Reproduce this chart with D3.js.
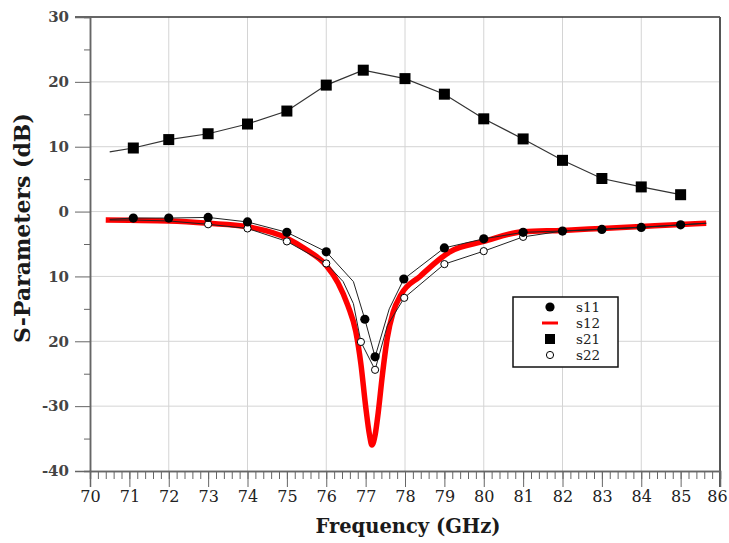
<!DOCTYPE html>
<html>
<head>
<meta charset="utf-8">
<script src="https://cdn.jsdelivr.net/npm/d3@7"></script>
<style>
  body { margin: 0; background: #fff; }
  svg { display: block; }
</style>
</head>
<body>
<div id="chart"></div>
<script>
// tick labels as printed on the original (minus sign missing on -10/-20)
var yTicks = [30, 20, 10, 0, -10, -20, -30, -40];
var yTickLabels = ["30", "20", "10", "0", "10", "20", "-30", "-40"];
var xTicks = d3.range(70, 87);

// S21
var s21Freq = [70.5, 71.1, 72, 73, 74, 75, 76, 76.94, 78, 79, 80, 81, 82, 83, 84, 85];
var s21Val  = [9.2, 9.8, 11.1, 12.0, 13.5, 15.5, 19.5, 21.8, 20.5, 18.1, 14.3, 11.2, 7.9, 5.1, 3.8, 2.6];
var s21Marks = [71.1, 72, 73, 74, 75, 76, 76.94, 78, 79, 80, 81, 82, 83, 84, 85];

// S11
var s11Freq = [70.5, 71.1, 72, 73, 74, 75, 76, 76.69, 76.98, 77.24, 77.6, 77.97, 79, 80, 81, 82, 83, 84, 85, 85.65];
var s11Val  = [-1.2, -1.0, -1.0, -0.9, -1.6, -3.2, -6.2, -10.8, -16.6, -22.4, -15.0, -10.4, -5.6, -4.2, -3.2, -3.0, -2.75, -2.45, -2.05, -1.8];
var s11Marks = [71.1, 72, 73, 74, 75, 76, 76.98, 77.24, 77.97, 79, 80, 81, 82, 83, 84, 85];

// S22
var s22Freq = [70.5, 71.1, 72, 73, 74, 75, 76, 76.43, 76.69, 76.88, 77.24, 77.55, 77.98, 79, 80, 81, 82, 83, 84, 85, 85.65];
var s22Val  = [-1.3, -1.3, -1.45, -1.96, -2.6, -4.6, -8.0, -10.8, -14.2, -20.1, -24.4, -17.6, -13.3, -8.1, -6.1, -3.9, -3.0, -2.7, -2.4, -2.05, -1.8];
var s22Marks = [73, 74, 75, 76, 76.88, 77.24, 77.98, 79, 80, 81];

// S12 (red, no markers)
var s12Freq = [70.4, 71, 72, 73, 74, 75, 75.5, 76, 76.3, 76.55, 76.75, 76.88, 77.0, 77.1, 77.16, 77.24, 77.32, 77.42, 77.55, 77.7, 77.9, 78.38, 79.14, 80, 81, 82, 83, 84, 85, 85.65];
var s12Val  = [-1.3, -1.35, -1.45, -1.8, -2.35, -4.1, -5.9, -8.3, -11.0, -14.5, -18.5, -23.5, -30.0, -34.5, -36.0, -34.5, -31.0, -25.5, -19.5, -15.5, -12.8, -10.0, -6.2, -4.6, -3.1, -2.9, -2.6, -2.3, -2.0, -1.8];

var legendKeys = ["s11", "s12", "s21", "s22"];

var W = 729, H = 543,
    margin = {top: 17, right: 9, bottom: 72, left: 90},
    width = W - margin.left - margin.right,
    height = H - margin.top - margin.bottom;

var svg = d3.select("#chart").append("svg")
    .attr("width", W)
    .attr("height", H);

var x = d3.scaleLinear().domain([70, 86]).range([0, width]);
var y = d3.scaleLinear().domain([-40, 30]).range([height, 0]);

function pts(fr, va) {
  return fr.map(function(f, i) { return {f: f, v: va[i]}; });
}
function marks(fr, va, m) {
  return pts(fr, va).filter(function(d) { return m.indexOf(d.f) >= 0; });
}

var g = svg.append("g").attr("transform", "translate(" + margin.left + "," + margin.top + ")");

// grid
g.append("g")
  .selectAll("line")
  .data([20, 10, 0, -10, -20, -30])
  .enter().append("line")
    .attr("x1", 0).attr("x2", width)
    .attr("y1", function(d) { return y(d); })
    .attr("y2", function(d) { return y(d); })
    .attr("stroke", "#d4d4d4");

g.append("g")
  .selectAll("line")
  .data([72, 74, 76, 78, 80, 82, 84])
  .enter().append("line")
    .attr("y1", 0).attr("y2", height)
    .attr("x1", function(d) { return x(d); })
    .attr("x2", function(d) { return x(d); })
    .attr("stroke", "#d4d4d4");

// frame (top + right)
g.append("line").attr("x1", -15).attr("x2", width).attr("y1", 0).attr("y2", 0)
  .attr("stroke", "#333").attr("stroke-width", 1.5);
g.append("line").attr("x1", width).attr("x2", width).attr("y1", 0).attr("y2", height + 16)
  .attr("stroke", "#555").attr("stroke-width", 2);

// y axis
var yMinor = d3.axisLeft(y).tickValues([25, 15, 5, -5, -15, -25, -35]).tickSize(6).tickFormat("");
g.append("g").attr("class", "axis").call(yMinor);
var yAxis = d3.axisLeft(y).tickValues(yTicks).tickSize(15).tickPadding(6)
  .tickFormat(function(d, i) { return yTickLabels[i]; });
g.append("g").attr("class", "axis y").call(yAxis);

// x axis
var xMinor = d3.axisBottom(x).tickValues(d3.range(0, 81).map(function(i) { return 70 + i * 0.2; })).tickSize(8).tickFormat("");
g.append("g").attr("class", "axis").attr("transform", "translate(0," + height + ")").call(xMinor);
var xAxis = d3.axisBottom(x).tickValues(xTicks).tickSize(16).tickPadding(4).tickFormat(d3.format("d"));
g.append("g").attr("class", "axis x").attr("transform", "translate(0," + height + ")").call(xAxis);

svg.selectAll(".axis path").attr("stroke", "#666").attr("stroke-width", 1.5);
svg.selectAll(".axis line").attr("stroke", "#666");
svg.selectAll(".axis.y text")
  .attr("font-family", "DejaVu Serif").attr("font-size", 15).attr("font-weight", "bold").attr("fill", "#444");
svg.selectAll(".axis.x text")
  .attr("font-family", "DejaVu Serif").attr("font-size", 16).attr("fill", "#222")
  .attr("dx", function(d) { return d === 86 ? -3 : 0; });

// lines
var line = d3.line()
  .x(function(d) { return x(d.f); })
  .y(function(d) { return y(d.v); });

g.append("path").datum(pts(s21Freq, s21Val))
  .attr("fill", "none").attr("stroke", "#333").attr("stroke-width", 1.2).attr("d", line);

g.append("path").datum(pts(s12Freq, s12Val))
  .attr("fill", "none").attr("stroke", "#ff0000").attr("stroke-width", 5.5)
  .attr("stroke-linejoin", "round")
  .attr("d", line.curve(d3.curveMonotoneX));
line.curve(d3.curveLinear);

g.append("path").datum(pts(s22Freq, s22Val))
  .attr("fill", "none").attr("stroke", "#222").attr("stroke-width", 1).attr("d", line);
g.append("path").datum(pts(s11Freq, s11Val))
  .attr("fill", "none").attr("stroke", "#222").attr("stroke-width", 1).attr("d", line);

// markers
g.append("g").selectAll("rect")
  .data(marks(s21Freq, s21Val, s21Marks))
  .enter().append("rect")
    .attr("x", function(d) { return x(d.f) - 5.5; })
    .attr("y", function(d) { return y(d.v) - 5.5; })
    .attr("width", 11).attr("height", 11)
    .attr("fill", "#000");

g.append("g").selectAll("circle")
  .data(marks(s22Freq, s22Val, s22Marks))
  .enter().append("circle")
    .attr("cx", function(d) { return x(d.f); })
    .attr("cy", function(d) { return y(d.v); })
    .attr("r", 3.6)
    .attr("fill", "#fff").attr("stroke", "#000").attr("stroke-width", 1);

g.append("g").selectAll("circle")
  .data(marks(s11Freq, s11Val, s11Marks))
  .enter().append("circle")
    .attr("cx", function(d) { return x(d.f); })
    .attr("cy", function(d) { return y(d.v); })
    .attr("r", 4.6)
    .attr("fill", "#000");

// axis titles
svg.append("text")
  .attr("transform", "translate(30,228) rotate(-90)")
  .attr("text-anchor", "middle")
  .attr("font-family", "DejaVu Serif").attr("font-weight", "bold").attr("font-size", 22)
  .attr("fill", "#1a1a1a")
  .text("S-Parameters (dB)");

svg.append("text")
  .attr("x", 408).attr("y", 533)
  .attr("text-anchor", "middle")
  .attr("font-family", "DejaVu Serif").attr("font-weight", "bold").attr("font-size", 19.5)
  .attr("fill", "#1a1a1a")
  .text("Frequency (GHz)");

// legend
var lg = svg.append("g").attr("transform", "translate(513,297)");
lg.append("rect").attr("width", 105).attr("height", 70)
  .attr("fill", "#fff").attr("stroke", "#111").attr("stroke-width", 1.5);

var item = lg.selectAll("g.item")
  .data(legendKeys)
  .enter().append("g")
    .attr("class", "item")
    .attr("transform", function(d, i) { return "translate(0," + (10 + i * 16) + ")"; });

item.append("text")
  .attr("x", 63).attr("dy", "0.35em")
  .attr("font-family", "DejaVu Serif").attr("font-size", 13.5).attr("fill", "#222")
  .text(function(d) { return d; });

item.filter(function(d) { return d === "s11"; }).append("circle")
  .attr("cx", 37).attr("r", 4.6).attr("fill", "#000");
item.filter(function(d) { return d === "s12"; }).append("line")
  .attr("x1", 29).attr("x2", 45).attr("stroke", "#ff0000").attr("stroke-width", 3);
item.filter(function(d) { return d === "s21"; }).append("rect")
  .attr("x", 32).attr("y", -5).attr("width", 10).attr("height", 10).attr("fill", "#000");
item.filter(function(d) { return d === "s22"; }).append("circle")
  .attr("cx", 37).attr("r", 3.6).attr("fill", "#fff").attr("stroke", "#000");
</script>
</body>
</html>
